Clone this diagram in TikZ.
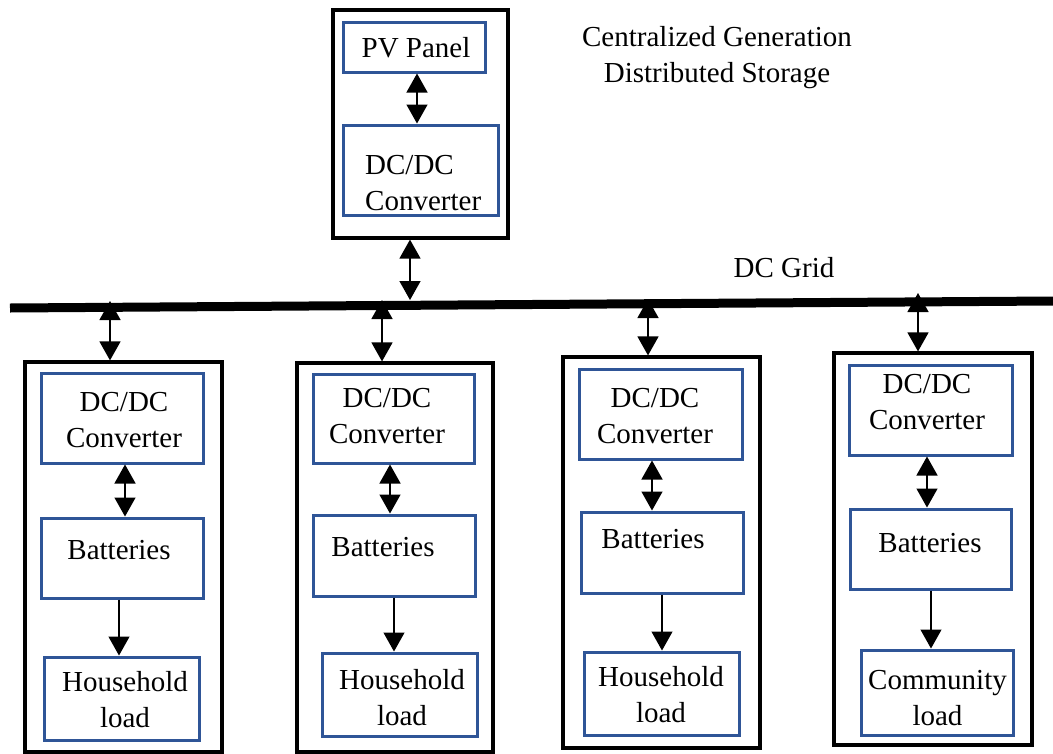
\documentclass[tikz,border=0pt]{standalone}
\usepackage{fontspec}
\setmainfont{Liberation Serif}
\usetikzlibrary{arrows.meta,fit}
\definecolor{boxblue}{HTML}{2F5597}
\begin{document}
\begin{tikzpicture}[x=1pt,y=-1pt,
  outer/.style={draw=black,line width=3.2pt,inner sep=0pt},
  unit/.style={draw=boxblue,line width=3pt,inner sep=0pt},
  lbl/.style={font=\fontsize{29}{36}\selectfont,inner sep=0pt,anchor=base,align=center},
  link/.style={line width=1.4pt,{Triangle[length=19pt,width=21pt]}-{Triangle[length=19pt,width=21pt]}},
  feed/.style={line width=1.2pt,-{Triangle[length=19pt,width=21pt]}},
  bus/.style={line width=9pt}]
\useasboundingbox (0,0) rectangle (1053,753);

% titles (anchor = baseline of the last line)
\node[lbl] (title) at (717,82) {Centralized Generation\\Distributed Storage};
\node[lbl] (gridlbl) at (784,277) {DC Grid};

% central generation unit
\node[outer, fit={(333,10) (508,238)}] (gen) {};
\node[unit, fit={(343,22) (485,72)}] (pv) {};
\node[lbl] (pvt) at (416,57) {PV Panel};
\node[unit, fit={(343,125) (498,215)}] (conv0) {};
\node[lbl, anchor=base west, align=left] (conv0t) at (365,210) {DC/DC\\Converter};
\draw[link] ([xshift=3pt]pv.south) -- ([xshift=-3.5pt]conv0.north);

% DC bus
\coordinate (busL) at (10,308);
\coordinate (busR) at (1053,301);
\draw[bus] (busL) -- (busR);
\coordinate (tap0) at (410,300);
\coordinate (tap1) at (110,301);
\coordinate (tap2) at (382,300);
\coordinate (tap3) at (648,299);
\coordinate (tap4) at (918,293);
\draw[link] ([xshift=-10.5pt]gen.south) -- (tap0);

% storage unit 1
\node[outer, fit={(25,362) (222,752)}] (out1) {};
\node[unit, fit={(41,373) (203,463)}] (conv1) {};
\node[unit, fit={(41,518) (203,598)}] (bat1) {};
\node[unit, fit={(44,657) (199,740)}] (load1) {};
\node[lbl] (conv1t) at (124,447) {DC/DC\\Converter};
\node[lbl] (bat1t) at (119,559) {Batteries};
\node[lbl] (load1t) at (125,727) {Household\\load};
\draw[link] (tap1) -- ([xshift=-13.5pt]out1.north);
\draw[link] ([xshift=3pt]conv1.south) -- ([xshift=3pt]bat1.north);
\draw[feed] ([xshift=-3pt]bat1.south) -- ([xshift=-2.5pt]load1.north);

% storage unit 2
\node[outer, fit={(297,363) (493,752)}] (out2) {};
\node[unit, fit={(313,374) (474,463)}] (conv2) {};
\node[unit, fit={(313,515) (475,596)}] (bat2) {};
\node[unit, fit={(322,653) (477,736)}] (load2) {};
\node[lbl] (conv2t) at (387,443) {DC/DC\\Converter};
\node[lbl] (bat2t) at (383,556) {Batteries};
\node[lbl] (load2t) at (402,725) {Household\\load};
\draw[link] (tap2) -- ([xshift=-13pt]out2.north);
\draw[link] ([xshift=-3.5pt]conv2.south) -- ([xshift=-4pt]bat2.north);
\draw[feed] (bat2.south) -- ([xshift=-5.5pt]load2.north);

% storage unit 3
\node[outer, fit={(563,357) (760,748)}] (out3) {};
\node[unit, fit={(579,369) (742,459)}] (conv3) {};
\node[unit, fit={(581,512) (743,593)}] (bat3) {};
\node[unit, fit={(584,652) (739,735)}] (load3) {};
\node[lbl] (conv3t) at (655,443) {DC/DC\\Converter};
\node[lbl] (bat3t) at (653,548) {Batteries};
\node[lbl] (load3t) at (661,722) {Household\\load};
\draw[link] (tap3) -- ([xshift=-13.5pt]out3.north);
\draw[link] ([xshift=-8.5pt]conv3.south) -- ([xshift=-10pt]bat3.north);
\draw[feed] (bat3.south) -- ([xshift=0.5pt]load3.north);

% storage unit 4
\node[outer, fit={(834,353) (1032,745)}] (out4) {};
\node[unit, fit={(849,365) (1012,455)}] (conv4) {};
\node[unit, fit={(850,509) (1011,589)}] (bat4) {};
\node[unit, fit={(861,650) (1013,735)}] (load4) {};
\node[lbl] (conv4t) at (927,429) {DC/DC\\Converter};
\node[lbl] (bat4t) at (930,552) {Batteries};
\node[lbl] (load4t) at (937.5,725) {Community\\load};
\draw[link] (tap4) -- ([xshift=-15pt]out4.north);
\draw[link] ([xshift=-3.5pt]conv4.south) -- ([xshift=-3.5pt]bat4.north);
\draw[feed] ([xshift=0.5pt]bat4.south) -- ([xshift=-6pt]load4.north);
\end{tikzpicture}
\end{document}
